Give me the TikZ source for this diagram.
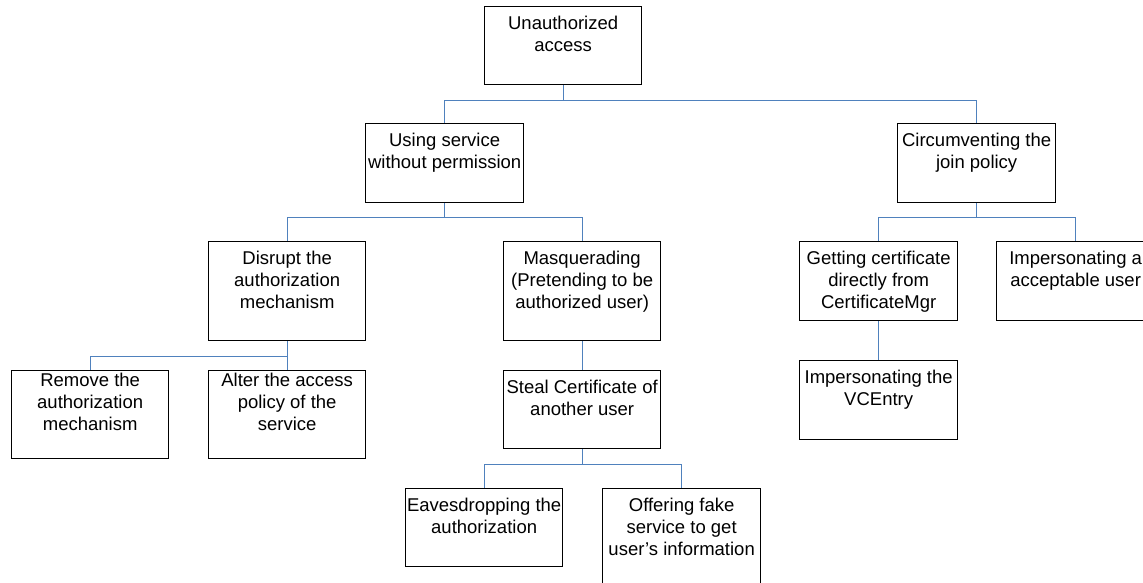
\documentclass[tikz,border=0pt]{standalone}
\usepackage{fontspec}
\setmainfont{Liberation Sans}
\definecolor{linkblue}{RGB}{79,129,189}
% box content: fixed width and height, text hung from the top;
% the optional argument is the drop from the top edge to the first baseline
\newcommand{\boxtext}[4][23pt]{\begin{minipage}[t][#3][t]{#2}\centering\rule{0pt}{#1}#4\end{minipage}}
\begin{document}
\begin{tikzpicture}[x=1pt,y=-1pt,
  treebox/.style={draw=black,line width=1.3pt,inner sep=0pt,anchor=north west,
    font=\fontsize{18.5}{22}\selectfont},
  conn/.style={draw=linkblue,line width=1.2pt}]
\clip (0,0) rectangle (1143,582);

% boxes
\node[treebox] (root)  at (484,6)   {\boxtext{157pt}{78pt}{Unauthorized\\access}};
\node[treebox] (using) at (365,123) {\boxtext{158pt}{79pt}{Using service\\without permission}};
\node[treebox] (circ)  at (897,123) {\boxtext{158pt}{79pt}{Circumventing the\\join policy}};
\node[treebox] (disr)  at (208,241) {\boxtext{157pt}{99pt}{Disrupt the\\authorization\\mechanism}};
\node[treebox] (masq)  at (503,241) {\boxtext{157pt}{99pt}{Masquerading\\(Pretending to be\\authorized user)}};
\node[treebox] (getc)  at (799,241) {\boxtext{158pt}{79pt}{Getting certificate\\directly from\\CertificateMgr}};
\node[treebox] (impa)  at (996,241) {\boxtext{158pt}{79pt}{Impersonating a\\acceptable user}};
\node[treebox] (vce)   at (799,360) {\boxtext{158pt}{79pt}{Impersonating the\\VCEntry}};
\node[treebox] (remv)  at (11,370)  {\boxtext[16pt]{157pt}{88pt}{Remove the\\authorization\\mechanism}};
\node[treebox] (altr)  at (208,370) {\boxtext[16pt]{157pt}{88pt}{Alter the access\\policy of the\\service}};
\node[treebox] (steal) at (503,370) {\boxtext{157pt}{78pt}{Steal Certificate of\\another user}};
\node[treebox] (eave)  at (405,488) {\boxtext{157pt}{78pt}{Eavesdropping the\\authorization}};
\node[treebox] (offer) at (602,488) {\boxtext{158pt}{100pt}{Offering fake\\service to get\\user’s information}};

% connectors
\draw[conn] (root.south) -- ++(0,15) -| (using.north);
\draw[conn] (root.south) -- ++(0,15) -| (circ.north);
\draw[conn] (using.south) -- ++(0,14) -| (disr.north);
\draw[conn] (using.south) -- ++(0,14) -| (masq.north);
\draw[conn] (circ.south) -- ++(0,14) -| (getc.north);
\draw[conn] (circ.south) -- ++(0,14) -| (impa.north);
\draw[conn] (getc.south) -- (vce.north);
\draw[conn] (disr.south) -- ++(0,15) -| (remv.north);
\draw[conn] (disr.south) -- ++(0,15) -| (altr.north);
\draw[conn] (masq.south) -- (steal.north);
\draw[conn] (steal.south) -- ++(0,15) -| (eave.north);
\draw[conn] (steal.south) -- ++(0,15) -| (offer.north);
\end{tikzpicture}
\end{document}
